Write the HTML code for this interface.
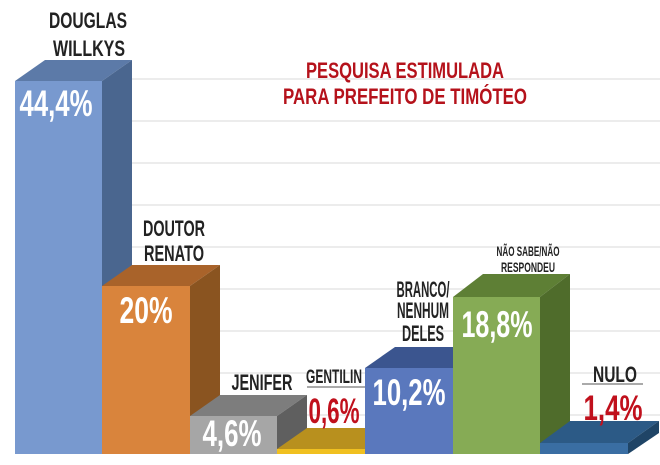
<!DOCTYPE html>
<html><head><meta charset="utf-8"><style>
html,body{margin:0;padding:0;background:#fff;}
svg{display:block;}
text{font-family:"Liberation Sans Narrow","Liberation Sans",sans-serif;font-weight:bold;}
</style></head><body>
<svg width="660" height="465" viewBox="0 0 660 465" xmlns="http://www.w3.org/2000/svg">
<rect width="660" height="465" fill="#fff"/>
<g stroke="#e6e6e6" stroke-width="1.5">
<line x1="132" y1="79" x2="660" y2="79"/>
<line x1="132" y1="121" x2="660" y2="121"/>
<line x1="132" y1="163" x2="660" y2="163"/>
<line x1="132" y1="205" x2="660" y2="205"/>
<line x1="132" y1="247" x2="660" y2="247"/>
<line x1="132" y1="289" x2="660" y2="289"/>
<line x1="132" y1="331" x2="660" y2="331"/>
<line x1="132" y1="373" x2="660" y2="373"/>
<line x1="132" y1="415" x2="660" y2="415"/>
</g>
<!-- bar1 -->
<polygon points="15,81 45,60 132,60 102,81" fill="#5c7aa8"/>
<polygon points="102,81 132,60 132,433 102,454" fill="#4a668f"/>
<rect x="15" y="81" width="87" height="373" fill="#7899cf"/>
<!-- bar2 -->
<polygon points="102,286 132,265 220,265 190,286" fill="#a9632a"/>
<polygon points="190,286 220,265 220,433 190,454" fill="#8a5420"/>
<rect x="102" y="286" width="88" height="168" fill="#d9843c"/>
<!-- bar3 -->
<polygon points="190,416 220,395 307,395 277,416" fill="#7d7d7d"/>
<polygon points="277,416 307,395 307,433 277,454" fill="#5f5f5f"/>
<rect x="190" y="416" width="87" height="38" fill="#a6a6a6"/>
<!-- bar4 -->
<polygon points="277,449 307,428 395,428 365,449" fill="#b8901e"/>
<rect x="277" y="449" width="88" height="5" fill="#f0c020"/>
<!-- bar5 -->
<polygon points="365,368 395,347 483,347 453,368" fill="#3b558f"/>
<rect x="365" y="368" width="88" height="86" fill="#5a78bd"/>
<!-- bar6 -->
<polygon points="453,297 483,274 570,274 540,297" fill="#5e7f35"/>
<polygon points="540,297 570,274 570,433 540,454" fill="#4f6c2b"/>
<rect x="453" y="297" width="87" height="157" fill="#86ab55"/>
<!-- bar7 -->
<polygon points="540,443 570,421 659,421 628,443" fill="#2c5a86"/>
<polygon points="628,443 659,421 659,433 628,454" fill="#1f4466"/>
<rect x="540" y="443" width="88" height="11" fill="#3a6ea3"/>
<!-- labels -->
<g fill="#222" font-size="22">
<text x="88" y="28" text-anchor="middle" textLength="78" lengthAdjust="spacingAndGlyphs">DOUGLAS</text>
<text x="89" y="56" text-anchor="middle" textLength="72" lengthAdjust="spacingAndGlyphs">WILLKYS</text>
<text x="174" y="236" text-anchor="middle" textLength="62" lengthAdjust="spacingAndGlyphs">DOUTOR</text>
<text x="174" y="261" text-anchor="middle" textLength="60" lengthAdjust="spacingAndGlyphs">RENATO</text>
<text x="262" y="390" text-anchor="middle" textLength="61" lengthAdjust="spacingAndGlyphs">JENIFER</text>
<text x="334" y="383" text-anchor="middle" font-size="19" textLength="56" lengthAdjust="spacingAndGlyphs">GENTILIN</text>
<text x="423" y="297" text-anchor="middle" textLength="53" lengthAdjust="spacingAndGlyphs">BRANCO/</text>
<text x="423" y="318" text-anchor="middle" textLength="52" lengthAdjust="spacingAndGlyphs">NENHUM</text>
<text x="423" y="341" text-anchor="middle" textLength="42" lengthAdjust="spacingAndGlyphs">DELES</text>
<text x="528" y="256" text-anchor="middle" font-size="14" textLength="63" lengthAdjust="spacingAndGlyphs">NÃO SABE/NÃO</text>
<text x="528" y="272" text-anchor="middle" font-size="14" textLength="54" lengthAdjust="spacingAndGlyphs">RESPONDEU</text>
<text x="615" y="382" text-anchor="middle" textLength="44" lengthAdjust="spacingAndGlyphs">NULO</text>
</g>
<line x1="307" y1="387" x2="365" y2="387" stroke="#555" stroke-width="1"/>
<line x1="582" y1="384" x2="643" y2="384" stroke="#555" stroke-width="1"/>
<g fill="#fff" font-size="37">
<text x="56" y="116" text-anchor="middle" textLength="73" lengthAdjust="spacingAndGlyphs">44,4%</text>
<text x="146" y="323" text-anchor="middle" textLength="53" lengthAdjust="spacingAndGlyphs">20%</text>
<text x="232" y="446" text-anchor="middle" textLength="59" lengthAdjust="spacingAndGlyphs">4,6%</text>
<text x="409" y="405" text-anchor="middle" textLength="73" lengthAdjust="spacingAndGlyphs">10,2%</text>
<text x="497" y="337" text-anchor="middle" textLength="71" lengthAdjust="spacingAndGlyphs">18,8%</text>
</g>
<g fill="#c0101c" font-size="35">
<text x="334" y="423" text-anchor="middle" textLength="51" lengthAdjust="spacingAndGlyphs">0,6%</text>
<text x="613" y="420" text-anchor="middle" textLength="59" lengthAdjust="spacingAndGlyphs">1,4%</text>
</g>
<g fill="#b5121b" font-size="22">
<text x="405" y="78" text-anchor="middle" textLength="198" lengthAdjust="spacingAndGlyphs">PESQUISA ESTIMULADA</text>
<text x="405" y="104" text-anchor="middle" textLength="244" lengthAdjust="spacingAndGlyphs">PARA PREFEITO DE TIMÓTEO</text>
</g>
</svg>
</body></html>
